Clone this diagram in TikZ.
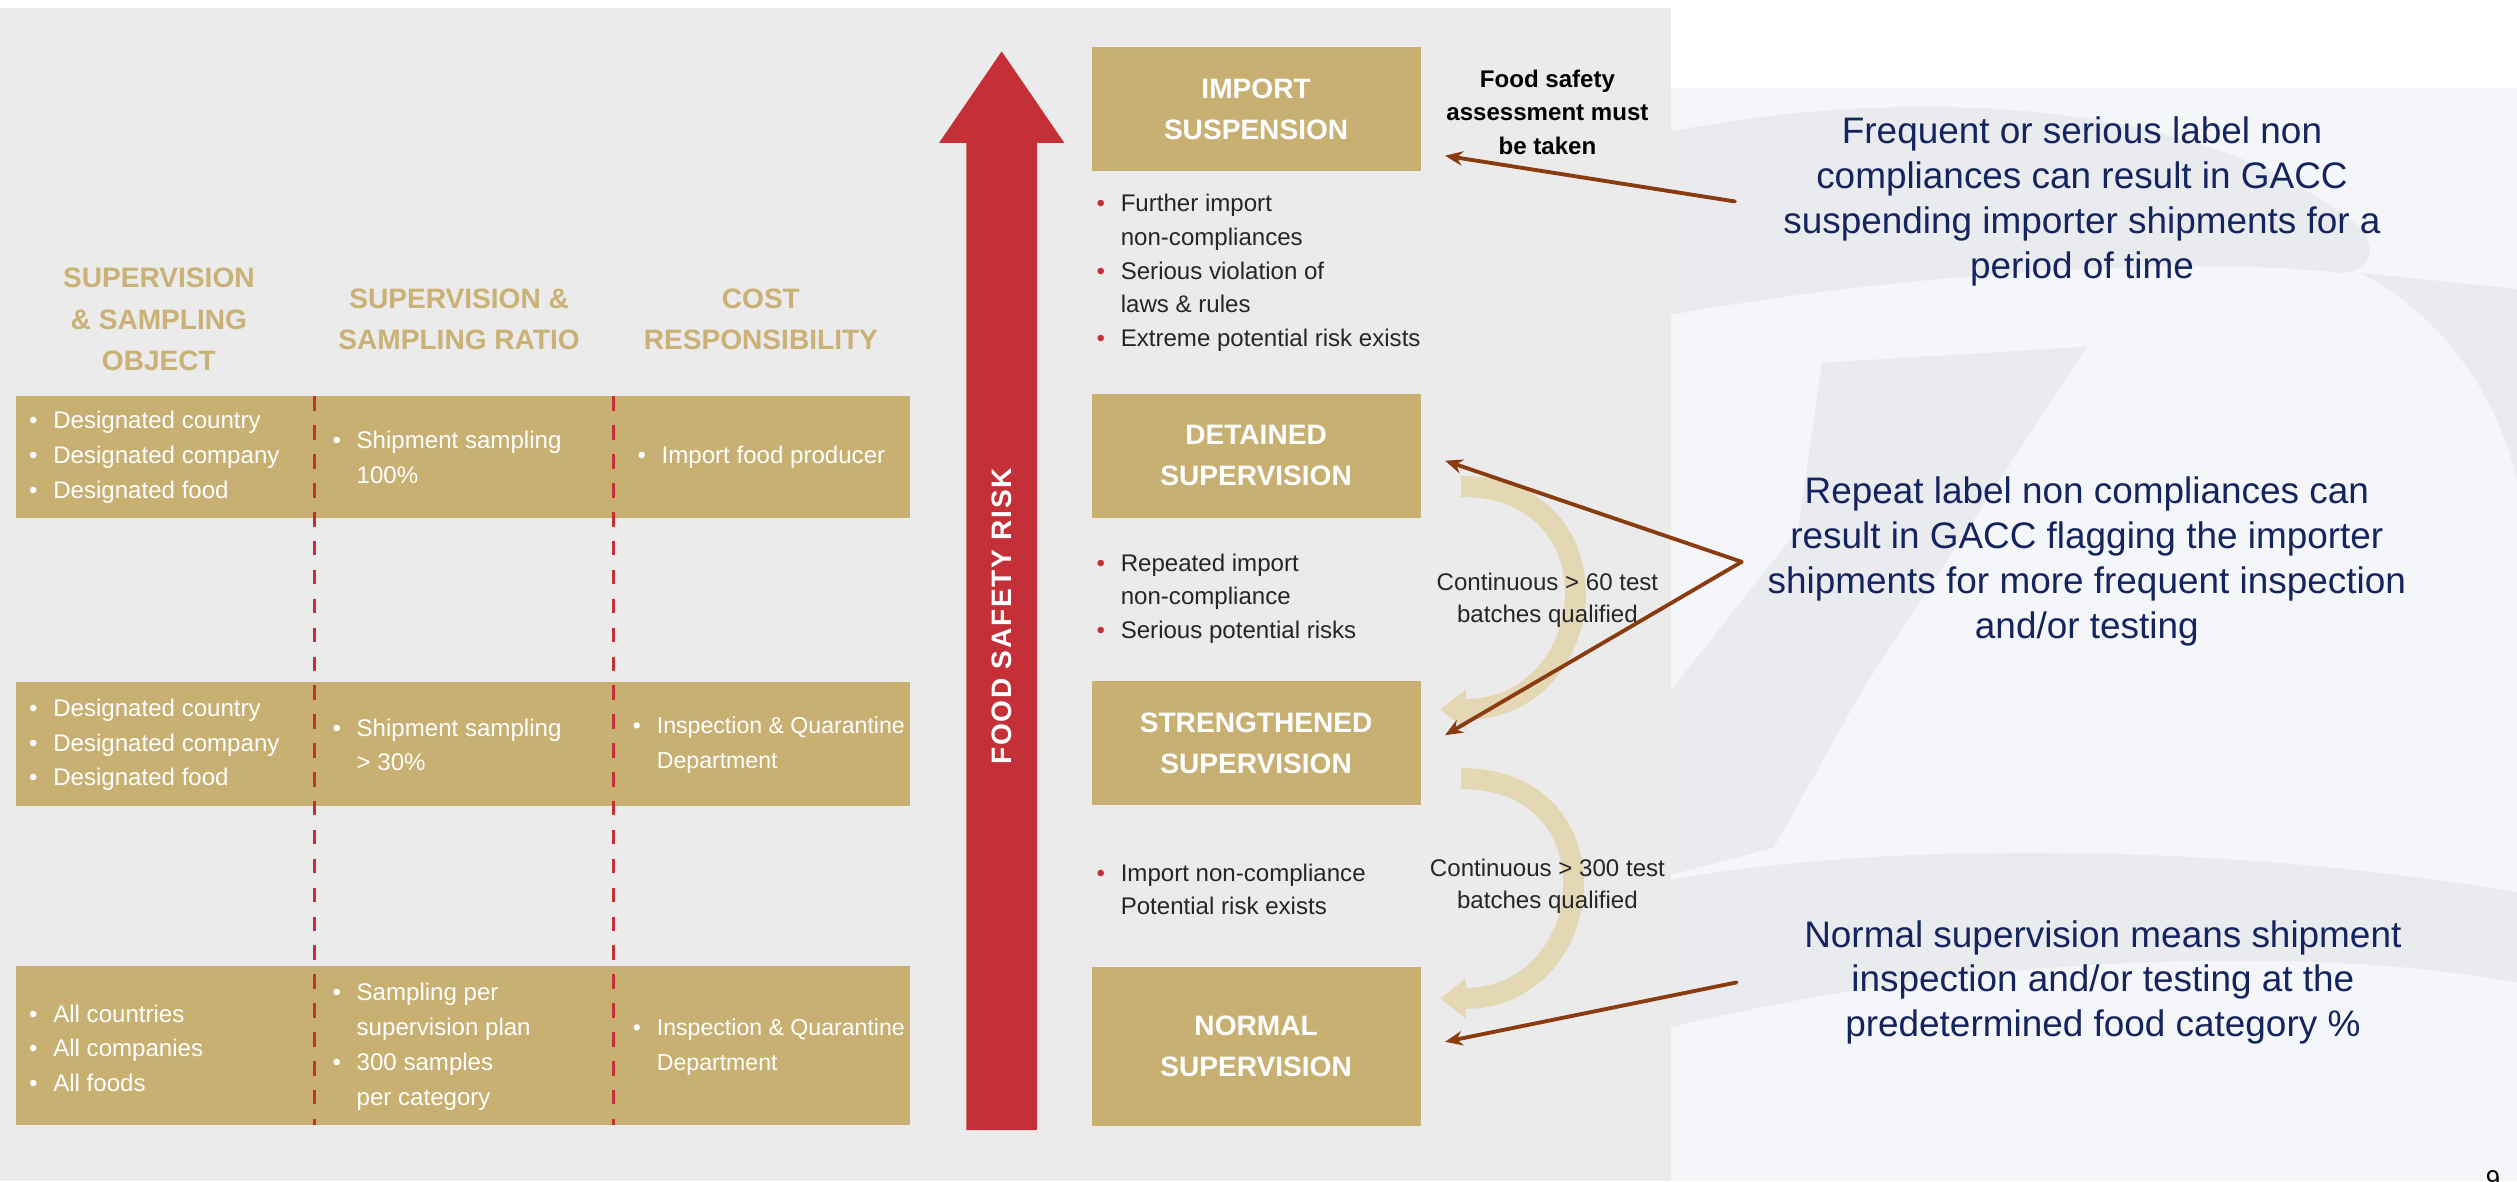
\documentclass[tikz,border=0pt]{standalone}
\usepackage{fontspec}
\setmainfont{Liberation Sans}
\newfontfamily\riskfont[LetterSpace=6]{Liberation Sans}
\usetikzlibrary{arrows.meta}

\definecolor{tan}{HTML}{C8AF72}
\definecolor{tanhead}{HTML}{CAB175}
\definecolor{tanpale}{HTML}{E4D7B3}
\definecolor{riskred}{HTML}{C52F37}
\definecolor{navy}{HTML}{14245E}
\definecolor{brownarr}{HTML}{8A3B0F}
\definecolor{panel}{HTML}{EBEBEB}
\definecolor{swoosh}{HTML}{E9EBEF}
\definecolor{rightbg}{HTML}{F4F6F9}
\definecolor{ink}{HTML}{262626}

\newcommand{\wbul}{\makebox[15pt][l]{\textbullet}}
\newcommand{\rbul}{\makebox[15pt][l]{\textcolor{riskred}{\textbullet}}}
\newcommand{\bulgap}{\hspace*{15pt}}

\begin{document}
\begin{tikzpicture}[x=1pt, y=-1pt, line join=round, line cap=round,
	lvlbox/.style={fill=tan, text=white, minimum width=205pt, inner sep=0pt, align=center, font=\bfseries\fontsize{17.5}{25.5}\selectfont},
	colhead/.style={text=tanhead, align=center, inner sep=0pt, font=\bfseries\fontsize{17.5}{25.7}\selectfont},
	cell/.style={anchor=west, align=left, inner sep=0pt, text=white, font=\fontsize{15}{21.7}\selectfont},
	bullist/.style={anchor=west, align=left, inner sep=0pt, text=ink, font=\fontsize{15}{21}\selectfont},
	small/.style={text=ink, align=center, inner sep=0pt, font=\fontsize{15}{20}\selectfont},
	expl/.style={text=navy, align=center, inner sep=0pt, font=\fontsize{23}{28}\selectfont},
	pointer/.style={draw=brownarr, line width=2.4pt, -{Stealth[length=11pt,width=9pt]}},
	backarc/.style={draw=tanpale, line width=13pt, line cap=butt, -{Triangle[length=16pt,width=24pt]}}]
	\useasboundingbox (0,0) rectangle (1568,736);
	% background
	\fill[white] (0,0) rectangle (1568,736);
	\fill[rightbg] (1041,55) rectangle (1568,736);
	\fill[swoosh] (1041,82) .. controls (1160,58) and (1360,52) .. (1468,140) .. controls (1482,152) and (1478,170) .. (1458,170) .. controls (1370,160) and (1200,168) .. (1041,196) -- cycle;
	\fill[swoosh] (1135,226) -- (1300,216) -- (1160,430) -- (1105,528) -- (1041,545) -- (1041,430) -- (1120,330) -- cycle;
	\fill[swoosh] (1041,548) .. controls (1200,520) and (1420,530) .. (1568,556) -- (1568,612) .. controls (1420,585) and (1200,600) .. (1041,640) -- cycle;
	\fill[swoosh] (1470,170) .. controls (1530,200) and (1560,260) .. (1568,300) -- (1568,180) -- cycle;
	\fill[panel] (0,5) rectangle (1041,736);

	% table
	\node[colhead] (h1) at (99,199) {SUPERVISION\\\& SAMPLING\\OBJECT};
	\node[colhead] (h2) at (286,199) {SUPERVISION \&\\SAMPLING RATIO};
	\node[colhead] (h3) at (474,199) {COST\\RESPONSIBILITY};
	\foreach \t/\b in {247/323, 425/502, 602/701}
		\fill[tan] (10,\t) rectangle (567,\b);
	\foreach \xx in {196,382}
		\draw[riskred, line width=1.8pt, line cap=butt, dash pattern=on 9pt off 9pt] (\xx,247) -- (\xx,701);

	\node[cell] (r1a) at (18,285) {\wbul Designated country\\\wbul Designated company\\\wbul Designated food};
	\node[cell] (r1b) at (207,285) {\wbul Shipment sampling\\\bulgap 100\%};
	\node[cell] (r1c) at (397,285) {\wbul Import food producer};
	\node[cell] (r2a) at (18,464) {\wbul Designated country\\\wbul Designated company\\\wbul Designated food};
	\node[cell] (r2b) at (207,464) {\wbul Shipment sampling\\\bulgap > 30\%};
	\node[cell, font=\fontsize{14.4}{21.7}\selectfont] (r2c) at (394,464) {\wbul Inspection \& Quarantine\\\bulgap Department};
	\node[cell] (r3a) at (18,653) {\wbul All countries\\\wbul All companies\\\wbul All foods};
	\node[cell] (r3b) at (207,652) {\wbul Sampling per\\\bulgap supervision plan\\\wbul 300 samples\\\bulgap per category};
	\node[cell, font=\fontsize{14.4}{21.7}\selectfont] (r3c) at (394,652) {\wbul Inspection \& Quarantine\\\bulgap Department};

	% risk arrow
	\fill[riskred] (602,704) -- (602,89) -- (585,89) -- (624,32) -- (663,89) -- (646,89) -- (646,704) -- cycle;
	\node[rotate=90, text=white, inner sep=0pt, font=\riskfont\bfseries\fontsize{17.5}{20}\selectfont] (risk) at (624,384) {FOOD SAFETY RISK};

	% levels
	\node[lvlbox, minimum height=77pt] (imp) at (782.5,68) {IMPORT\\SUSPENSION};
	\node[lvlbox, minimum height=77pt] (det) at (782.5,284) {DETAINED\\SUPERVISION};
	\node[lvlbox, minimum height=77pt] (str) at (782.5,463) {STRENGTHENED\\SUPERVISION};
	\node[lvlbox, minimum height=99pt] (nor) at (782.5,652) {NORMAL\\SUPERVISION};

	\draw[backarc] ([xshift=25pt,yshift=-19pt]det.east) to[out=0,in=0,looseness=1.85] ([xshift=12pt,yshift=21pt]str.east);
	\draw[backarc] ([xshift=25pt,yshift=-22pt]str.east) to[out=0,in=0,looseness=1.85] ([xshift=12pt,yshift=30pt]nor.east);

	\node[bullist] (c1) at (683,170) {\rbul Further import\\\bulgap non-compliances\\\rbul Serious violation of\\\bulgap laws \& rules\\\rbul Extreme potential risk exists};
	\node[bullist] (c2) at (683,373) {\rbul Repeated import\\\bulgap non-compliance\\\rbul Serious potential risks};
	\node[bullist] (c3) at (683,554) {\rbul Import non-compliance\\\bulgap Potential risk exists};

	\node[small, text=black, font=\bfseries\fontsize{15}{20.8}\selectfont] (assess) at (964,70) {Food safety\\assessment must\\be taken};
	\node[small] (q60) at (964,374) {Continuous > 60 test\\batches qualified};
	\node[small] (q300) at (964,552) {Continuous > 300 test\\batches qualified};

	% notes on the right
	\node[expl] (e1) at (1297,125.5) {Frequent or serious label non\\compliances can result in GACC\\suspending importer shipments for a\\period of time};
	\node[expl] (e2) at (1300,350) {Repeat label non compliances can\\result in GACC flagging the importer\\shipments for more frequent inspection\\and/or testing};
	\node[expl] (e3) at (1310,612) {Normal supervision means shipment\\inspection and/or testing at the\\predetermined food category \%};
	\coordinate (s1) at ([xshift=-30pt]e1.west);
	\coordinate (s2) at ([xshift=-16pt]e2.west);
	\coordinate (s3) at ([xshift=-42pt]e3.west);
	\draw[pointer] (s1) -- ([xshift=15pt,yshift=-29pt]imp.east);
	\draw[pointer] (s2) -- ([xshift=15pt,yshift=-3pt]det.east);
	\draw[pointer] (s2) -- ([xshift=15pt,yshift=5pt]str.east);
	\draw[pointer] (s3) -- ([xshift=15pt,yshift=3pt]nor.east);

	\node[font=\fontsize{16}{16}\selectfont] (pg) at (1553,735) {9};
\end{tikzpicture}
\end{document}
